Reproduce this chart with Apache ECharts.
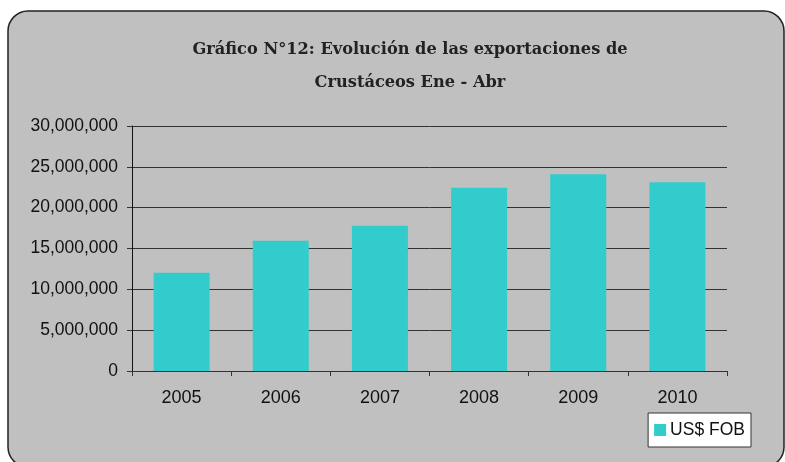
<!DOCTYPE html>
<html>
<head>
<meta charset="utf-8">
<script src="https://cdn.jsdelivr.net/npm/echarts@6/dist/echarts.min.js"></script>
<style>html,body{margin:0;padding:0;background:#fff;}#c{width:785px;height:462px;}</style>
</head>
<body>
<div id="c"></div>
<script>
var categories = ['2005', '2006', '2007', '2008', '2009', '2010'];
var usFob = [12030000, 15950000, 17800000, 22450000, 24100000, 23100000];
var yTicks = { min: 0, max: 30000000, interval: 5000000 };
var seriesName = 'US$ FOB';
var titleText = 'Gráfico N°12: Evolución de las exportaciones de\nCrustáceos Ene - Abr';

var chart = echarts.init(document.getElementById('c'), null, { renderer: 'canvas' });
chart.setOption({
  backgroundColor: '#fff',
  animation: false,
  graphic: [{
    type: 'rect', z: -10, silent: true,
    shape: { x: 8, y: 11, width: 776, height: 456, r: 20 },
    style: { fill: '#c0c0c0', stroke: '#222', lineWidth: 1.5 }
  }],
  title: {
    text: titleText,
    left: 405, top: 28, textAlign: 'center',
    textStyle: { fontFamily: 'DejaVu Serif', fontWeight: 'bold', fontSize: 16.2, color: '#222', lineHeight: 33 }
  },
  legend: {
    data: [seriesName],
    right: 34, top: 413,
    itemWidth: 12, itemHeight: 12, itemGap: 5,
    padding: [8, 6, 8, 6],
    backgroundColor: '#fff', borderColor: '#333', borderWidth: 1,
    icon: 'rect',
    textStyle: { fontFamily: 'Liberation Sans', fontSize: 17.5, color: '#111', padding: [0, 0, 0, -1] }
  },
  grid: { left: 132, right: 58, top: 126, bottom: 91 },
  xAxis: {
    type: 'category', data: categories,
    axisLine: { lineStyle: { color: '#333', width: 1 } },
    axisTick: { show: true, alignWithLabel: false, length: 5, lineStyle: { color: '#333' } },
    axisLabel: { margin: 18, fontFamily: 'Liberation Sans', fontSize: 18, color: '#111' }
  },
  yAxis: {
    type: 'value', min: yTicks.min, max: yTicks.max, interval: yTicks.interval,
    axisLine: { show: true, lineStyle: { color: '#111', width: 1 } },
    axisTick: { show: true, length: 5, lineStyle: { color: '#333' } },
    splitLine: { lineStyle: { color: '#333', width: 1 } },
    axisLabel: {
      margin: 14, fontFamily: 'Liberation Sans', fontSize: 17.5, color: '#111',
      formatter: function (v) { return v.toLocaleString('en-US'); }
    }
  },
  series: [{
    name: seriesName, type: 'bar', data: usFob, barWidth: 56,
    itemStyle: { color: '#33cccc' }
  }]
});
</script>
</body>
</html>
